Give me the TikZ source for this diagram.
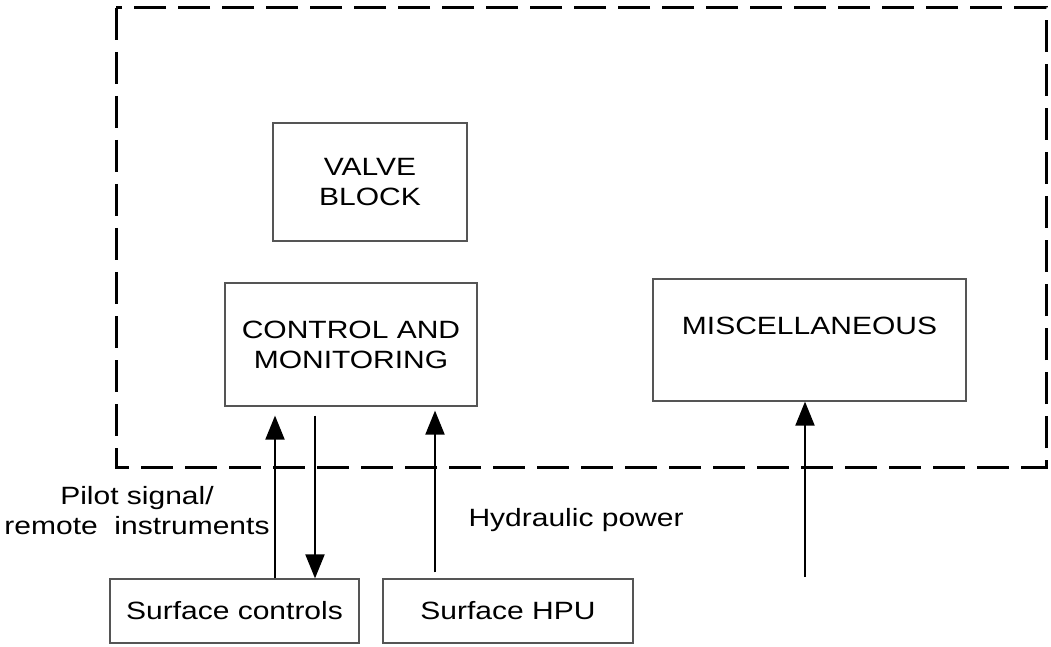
\documentclass[tikz,border=0pt]{standalone}
\usepackage{fontspec}
\setmainfont{Liberation Sans}[FakeStretch=1.2]
\usetikzlibrary{arrows.meta}
\definecolor{BoxGray}{HTML}{555555}

\begin{document}
\begin{tikzpicture}[x=1pt,y=1pt,
  every node/.style={font=\fontsize{25}{30}\selectfont},
  blockbox/.style={draw=BoxGray, line width=1.2pt, align=center, inner sep=0pt},
  flow/.style={line width=2pt, -{Triangle[length=24pt,width=19pt]}}]
  \useasboundingbox (0,0) rectangle (1051,646);
  % system boundary
  \draw[line width=3pt, dash pattern=on 32pt off 12pt] (116,638) rectangle (1046,179);
  % blocks
  \node[blockbox, minimum width=194pt, minimum height=118pt] (valve) at (370,464) {VALVE\\BLOCK};
  \node[blockbox, minimum width=252pt, minimum height=123pt] (ctrl) at (351,301.5) {CONTROL AND\\MONITORING};
  \node[blockbox, minimum width=313pt, minimum height=122pt,
    text height=18pt, text depth=30pt] (misc) at (809.5,306) {MISCELLANEOUS};
  \node[blockbox, minimum width=249pt, minimum height=64pt] (surfctrl) at (234.5,35) {Surface controls};
  \node[blockbox, minimum width=250pt, minimum height=64pt] (hpu) at (508,35) {Surface HPU};
  % connections
  \draw[flow] ([xshift=40.5pt]surfctrl.north) -- ([xshift=-76pt,yshift=-9pt]ctrl.south);
  \draw[flow] ([xshift=-36pt,yshift=-9pt]ctrl.south) -- ([xshift=80.5pt]surfctrl.north);
  \draw[flow] ([xshift=-73pt,yshift=6pt]hpu.north) -- ([xshift=84pt,yshift=-4pt]ctrl.south);
  \coordinate (miscfeed) at (805,69);
  \draw[flow] (miscfeed) -- (misc.south -| miscfeed);
  % labels
  \node[align=center] (pilotlbl) at (137,135) {Pilot signal/\\remote\ \ instruments};
  \node[anchor=base west] (hydlbl) at (465,120) {Hydraulic power};
\end{tikzpicture}
\end{document}
